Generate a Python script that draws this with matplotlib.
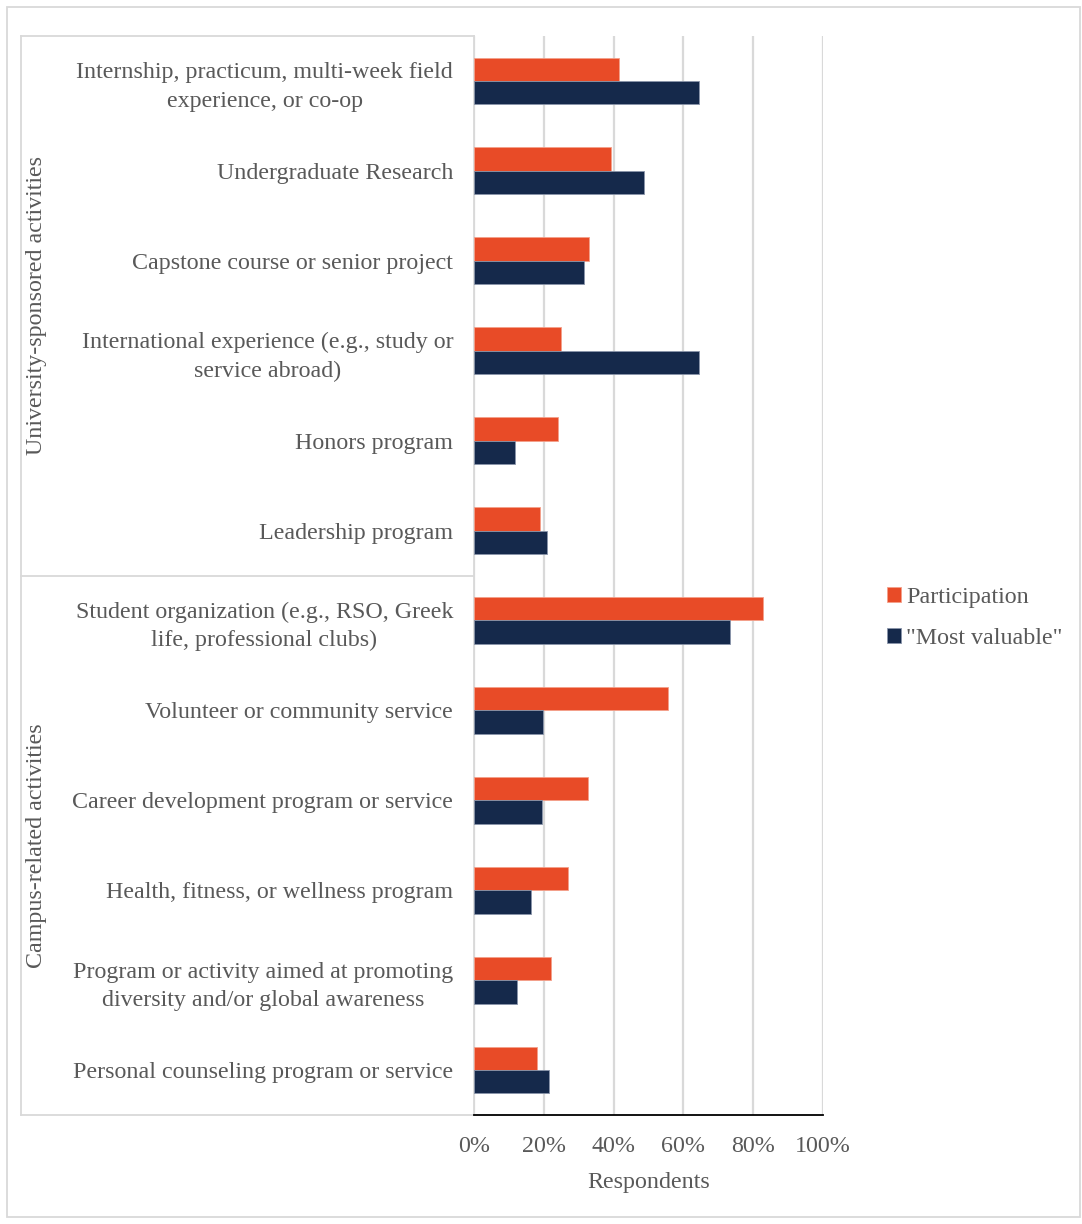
import matplotlib
matplotlib.use("Agg")
import matplotlib.pyplot as plt
import matplotlib.transforms as mtransforms
from matplotlib.lines import Line2D
from matplotlib.patches import Rectangle
import numpy as np

plt.rcParams['font.family'] = ['Liberation Serif', 'DejaVu Serif']

categories = [
    "Internship, practicum, multi-week field\nexperience, or co-op",
    "Undergraduate Research",
    "Capstone course or senior project",
    "International experience (e.g., study or\nservice abroad)",
    "Honors program",
    "Leadership program",
    "Student organization (e.g., RSO, Greek\nlife, professional clubs)",
    "Volunteer or community service",
    "Career development program or service",
    "Health, fitness, or wellness program",
    "Program or activity aimed at promoting\ndiversity and/or global awareness",
    "Personal counseling program or service",
]
participation = [41.5, 39.3, 32.9, 24.9, 24.0, 19.0, 82.9, 55.5, 32.7, 26.9, 22.1, 18.0]
most_valuable = [64.4, 48.6, 31.5, 64.5, 11.8, 21.0, 73.3, 19.8, 19.4, 16.2, 12.2, 21.6]
groups = ["University-sponsored activities", "Campus-related activities"]
group_sizes = [6, 6]
xticks = [0, 20, 40, 60, 80, 100]

orange = '#E84B27'
navy = '#15294B'
gray_text = '#595959'
grid_gray = '#D9D9D9'
fs = 17.3

W, H = 1082, 1224
fig = plt.figure(figsize=(W / 100, H / 100), dpi=100)
ax = fig.add_axes([474 / W, 1 - 1115 / H, 349 / W, 1079 / H])

y = np.arange(len(categories))
h = 0.26
ax.barh(y - h / 2, participation, height=h, color=orange, edgecolor='#F4A08A', linewidth=0.6,
        label='Participation', zorder=3)
ax.barh(y + h / 2, most_valuable, height=h, color=navy, edgecolor='#8A95AA', linewidth=0.6,
        label='"Most valuable"', zorder=3)

ax.set_xlim(0, 100)
ax.set_ylim(len(categories) - 0.5, -0.5)
ax.set_xticks(xticks)
ax.set_xticklabels([f"{t}%" for t in xticks])
ax.set_yticks(y)
ax.set_yticklabels(categories, multialignment='center', linespacing=1.45)
ax.tick_params(axis='y', length=0, pad=15, labelsize=fs, labelcolor=gray_text)
ax.tick_params(axis='x', length=0, pad=15, labelsize=fs, labelcolor=gray_text)
ax.xaxis.grid(True, color=grid_gray, linewidth=1.6, zorder=0)
ax.set_axisbelow(True)
for s in ['top', 'right']:
    ax.spines[s].set_visible(False)
ax.spines['left'].set_color(grid_gray)
ax.spines['left'].set_linewidth(1.3)
ax.spines['bottom'].set_color('black')
ax.spines['bottom'].set_linewidth(1.3)
ax.set_xlabel('Respondents', fontsize=fs, color=gray_text, labelpad=11)

# group axis: separators and rotated labels
trans = mtransforms.blended_transform_factory(fig.transFigure, ax.transData)
x0, x1 = 21 / W, 474 / W
bounds = np.concatenate([[0], np.cumsum(group_sizes)]) - 0.5
for b in bounds:
    ax.add_line(Line2D([x0, x1], [b, b], transform=trans, color=grid_gray,
                       linewidth=1.3, clip_on=False))
ax.add_line(Line2D([x0, x0], [bounds[0], bounds[-1]], transform=trans, color=grid_gray,
                   linewidth=1.3, clip_on=False))
for i, g in enumerate(groups):
    yc = (bounds[i] + bounds[i + 1]) / 2
    ax.text(37 / W, yc, g, transform=trans, rotation=90, ha='center', va='center',
            fontsize=fs, color=gray_text)

leg = ax.legend(loc='center left', bbox_to_anchor=(865 / W, 1 - 618 / H),
                bbox_transform=fig.transFigure, frameon=False, fontsize=fs,
                handlelength=0.6, handleheight=0.6, handletextpad=0.2, labelspacing=0.85)
for t in leg.get_texts():
    t.set_color(gray_text)

fig.add_artist(Rectangle((7 / W, 7 / H), 1073 / W, 1210 / H, transform=fig.transFigure,
                         fill=False, edgecolor=grid_gray, linewidth=1.3))

fig.savefig('out.png', dpi=100)
